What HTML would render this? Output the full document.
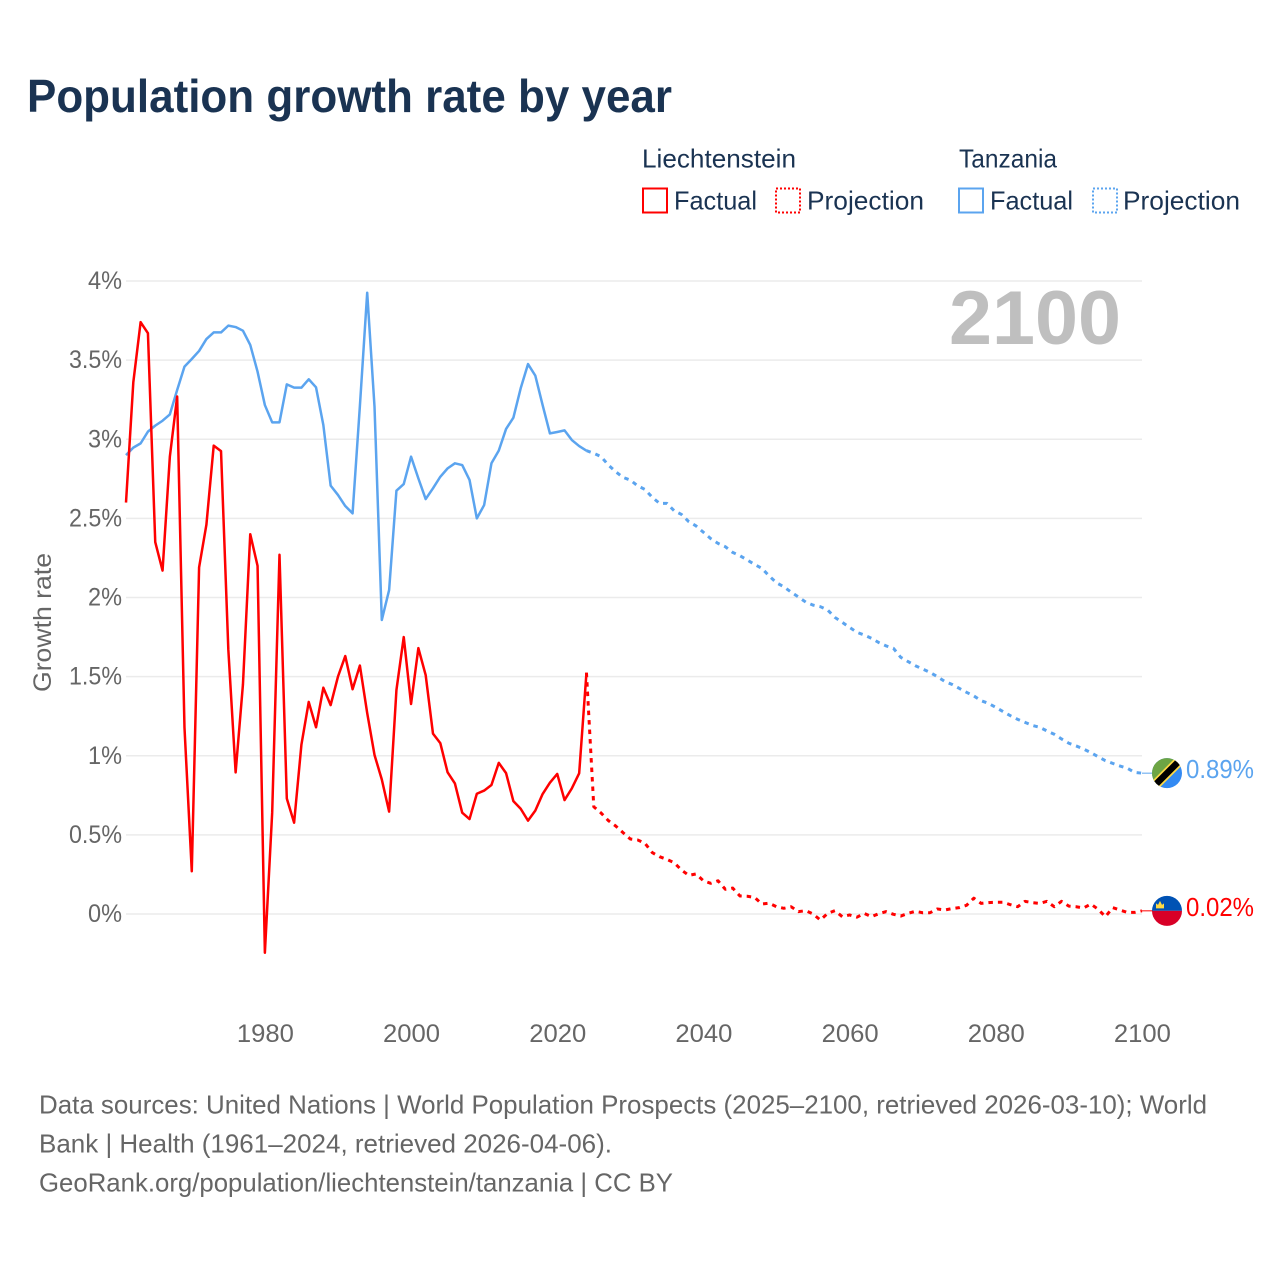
<!DOCTYPE html>
<html lang="en">
<head>
<meta charset="utf-8">
<title>Population growth rate by year</title>
<style>
html,body{margin:0;padding:0;background:#fff;width:1280px;height:1280px;overflow:hidden}
svg{display:block;font-family:"Liberation Sans",sans-serif}
</style>
</head>
<body>
<svg id="chart" xmlns="http://www.w3.org/2000/svg" width="1280" height="1280" viewBox="0 0 1280 1280">
  <defs>
    <clipPath id="clip-tz"><circle cx="0" cy="0" r="15"/></clipPath>
    <clipPath id="clip-li"><circle cx="0" cy="0" r="15"/></clipPath>
  </defs>
  <rect x="0" y="0" width="1280" height="1280" fill="#fff"/>
  <text x="27" y="112" font-size="46" font-weight="700" fill="#1a3352" textLength="645" lengthAdjust="spacingAndGlyphs">Population growth rate by year</text>

  <g font-size="26" fill="#1a3352">
    <text x="642" y="167.5" textLength="154" lengthAdjust="spacingAndGlyphs">Liechtenstein</text>
    <text x="959" y="167.5" textLength="98" lengthAdjust="spacingAndGlyphs">Tanzania</text>
    <rect x="643" y="188.5" width="24" height="24" fill="none" stroke="#ff0000" stroke-width="2"/>
    <text x="674" y="209.5" textLength="83" lengthAdjust="spacingAndGlyphs">Factual</text>
    <rect x="776" y="188.5" width="24" height="24" fill="none" stroke="#ff0000" stroke-width="2" stroke-dasharray="2 2"/>
    <text x="807" y="209.5" textLength="117" lengthAdjust="spacingAndGlyphs">Projection</text>
    <rect x="959" y="188.5" width="24" height="24" fill="none" stroke="#5ba4ef" stroke-width="2"/>
    <text x="990" y="209.5" textLength="83" lengthAdjust="spacingAndGlyphs">Factual</text>
    <rect x="1093" y="188.5" width="24" height="24" fill="none" stroke="#5ba4ef" stroke-width="2" stroke-dasharray="2 2"/>
    <text x="1123" y="209.5" textLength="117" lengthAdjust="spacingAndGlyphs">Projection</text>
  </g>

  <g id="grid"></g>
  <g id="yticks" font-size="25" fill="#666"></g>
  <g id="xticks" font-size="25" fill="#666"></g>
  <text transform="translate(51,692) rotate(-90)" x="0" y="0" font-size="25" fill="#666" textLength="139" lengthAdjust="spacingAndGlyphs">Growth rate</text>
  <text x="949" y="344" font-size="76" font-weight="700" fill="#bfbfbf" textLength="172" lengthAdjust="spacingAndGlyphs">2100</text>

  <g id="series"></g>

  <g id="flag-tz">
    <g clip-path="url(#clip-tz)">
      <rect x="-16" y="-16" width="32" height="32" fill="#338af3"/>
      <polygon points="-16,-16 16,-16 -16,16" fill="#6da544"/>
      <line x1="-18" y1="18" x2="18" y2="-18" stroke="#ffda44" stroke-width="10"/>
      <line x1="-18" y1="18" x2="18" y2="-18" stroke="#000" stroke-width="6.5"/>
    </g>
  </g>
  <g id="flag-li">
    <g clip-path="url(#clip-li)">
      <rect x="-16" y="-16" width="32" height="16" fill="#0052b4"/>
      <rect x="-16" y="0" width="32" height="16" fill="#d80027"/>
      <path d="M-11,-2.5 L-11,-7.5 L-9,-6 L-7,-10 L-5,-6 L-3,-7.5 L-3,-2.5 Z" fill="#ffda44"/>
    </g>
  </g>
  <text id="end-label-tz" x="1186" font-size="26" fill="#5ba4ef" textLength="68" lengthAdjust="spacingAndGlyphs"></text>
  <text id="end-label-li" x="1186" font-size="26" fill="#ff0000" textLength="68" lengthAdjust="spacingAndGlyphs"></text>

  <g font-size="26" fill="#666">
    <text x="39" y="1113.5" textLength="1168" lengthAdjust="spacingAndGlyphs">Data sources: United Nations | World Population Prospects (2025–2100, retrieved 2026-03-10); World</text>
    <text x="39" y="1152.5" textLength="573" lengthAdjust="spacingAndGlyphs">Bank | Health (1961–2024, retrieved 2026-04-06).</text>
    <text x="39" y="1191.5" textLength="634" lengthAdjust="spacingAndGlyphs">GeoRank.org/population/liechtenstein/tanzania | CC BY</text>
  </g>
</svg>
<script>
const factualStartYear = 1961;
const projectionStartYear = 2024;
const yTickValues = [0, 0.5, 1, 1.5, 2, 2.5, 3, 3.5, 4];
const yTickLabels = ["0%", "0.5%", "1%", "1.5%", "2%", "2.5%", "3%", "3.5%", "4%"];
const xTickYears = [1980, 2000, 2020, 2040, 2060, 2080, 2100];
const liechtensteinFactual = [
  2.60,3.36,3.74,3.67,2.35,2.17,2.89,3.27,1.18,0.27,
  2.19,2.46,2.96,2.925,1.67,0.895,1.45,2.40,2.20,-0.245,
  0.64,2.27,0.73,0.577,1.07,1.34,1.18,1.43,1.32,1.50,
  1.63,1.42,1.57,1.27,1.005,0.85,0.647,1.415,1.75,1.327,
  1.68,1.51,1.14,1.08,0.895,0.825,0.64,0.60,0.76,0.78,
  0.815,0.955,0.89,0.713,0.665,0.59,0.653,0.758,0.83,0.885,
  0.72,0.794,0.889,1.525
];
const liechtensteinProjection = [
  1.525,0.678,0.638,0.59,0.556,0.514,0.474,0.468,0.447,0.388,
  0.362,0.345,0.324,0.278,0.244,0.253,0.21,0.194,0.21,0.156,
  0.164,0.114,0.112,0.105,0.063,0.068,0.046,0.036,0.046,0.015,
  0.021,0,-0.038,0.004,0.021,-0.017,-0.006,-0.02,0.004,-0.017,
  0.002,0.015,-0.002,-0.013,0.004,0.017,0.008,0.008,0.032,0.025,
  0.034,0.04,0.055,0.10,0.067,0.072,0.074,0.074,0.059,0.046,
  0.08,0.072,0.067,0.08,0.046,0.08,0.05,0.046,0.038,0.063,
  0.03,-0.017,0.04,0.025,0.01,0.01,0.02
];
const tanzaniaFactual = [
  2.90,2.947,2.974,3.048,3.086,3.117,3.157,3.311,3.459,3.507,
  3.558,3.633,3.675,3.675,3.718,3.709,3.686,3.596,3.427,3.216,
  3.107,3.107,3.347,3.326,3.326,3.379,3.328,3.09,2.707,2.648,
  2.578,2.532,3.21,3.926,3.206,1.858,2.047,2.675,2.717,2.89,
  2.753,2.622,2.69,2.763,2.816,2.848,2.837,2.743,2.50,2.584,
  2.848,2.928,3.065,3.136,3.322,3.475,3.402,3.216,3.037,3.046,
  3.056,2.995,2.957,2.928
];
const tanzaniaProjection = [
  2.928,2.911,2.89,2.837,2.795,2.759,2.742,2.706,2.683,2.633,
  2.595,2.595,2.548,2.525,2.479,2.452,2.412,2.372,2.342,2.321,
  2.285,2.264,2.237,2.209,2.184,2.136,2.093,2.068,2.034,2.003,
  1.971,1.952,1.942,1.921,1.874,1.843,1.811,1.780,1.763,1.742,
  1.715,1.694,1.679,1.622,1.595,1.569,1.548,1.527,1.50,1.470,
  1.451,1.426,1.401,1.378,1.348,1.331,1.306,1.279,1.253,1.230,
  1.211,1.192,1.180,1.157,1.136,1.106,1.079,1.062,1.043,1.020,
  0.994,0.969,0.952,0.935,0.921,0.895,0.89
];

const SVG_NS = "http://www.w3.org/2000/svg";
const plotLeft = 126, plotRight = 1142, yZero = 914, pxPerPercent = 158.25, pxPerYear = 7.309;
function xScale(year){ return plotLeft + (year - factualStartYear) * pxPerYear; }
function yScale(value){ return yZero - value * pxPerPercent; }
function pathFrom(values, startYear){
  return values.map(function(v, i){
    return (i ? "L" : "M") + xScale(startYear + i).toFixed(2) + "," + yScale(v).toFixed(2);
  }).join("");
}
function yLabelWidth(label){ return label.length > 2 ? 53 : 34; }

const gridGroup = document.getElementById("grid");
const yTickGroup = document.getElementById("yticks");
yTickValues.forEach(function(v, i){
  const line = document.createElementNS(SVG_NS, "line");
  
  
  line.setAttribute("x1", plotLeft);
  line.setAttribute("x2", plotRight);
  line.setAttribute("y1", yScale(v));
  line.setAttribute("y2", yScale(v));
  line.setAttribute("stroke", "#ebebeb");
  line.setAttribute("stroke-width", "1.5");
  gridGroup.appendChild(line);
  const t = document.createElementNS(SVG_NS, "text");
  
  
  const w = yLabelWidth(yTickLabels[i]);
  t.setAttribute("x", 122 - w);
  t.setAttribute("y", yScale(v) + 8);
  t.setAttribute("textLength", w);
  t.setAttribute("lengthAdjust", "spacingAndGlyphs");
  t.textContent = yTickLabels[i];
  yTickGroup.appendChild(t);
});

const xTickGroup = document.getElementById("xticks");
xTickYears.forEach(function(year){
  const t = document.createElementNS(SVG_NS, "text");
  
  
  t.setAttribute("x", xScale(year) - 28);
  t.setAttribute("y", 1042);
  t.setAttribute("textLength", 57);
  t.setAttribute("lengthAdjust", "spacingAndGlyphs");
  t.textContent = String(year);
  xTickGroup.appendChild(t);
});

const seriesGroup = document.getElementById("series");
function addLine(name, values, startYear, color, dash){
  const p = document.createElementNS(SVG_NS, "path");
  
  
  p.setAttribute("d", pathFrom(values, startYear));
  p.setAttribute("fill", "none");
  p.setAttribute("stroke", color);
  p.setAttribute("stroke-width", dash ? "3" : "2.5");
  p.setAttribute("stroke-linejoin", "round");
  if (dash) p.setAttribute("stroke-dasharray", dash);
  seriesGroup.appendChild(p);
}
addLine("tanzania-factual-line", tanzaniaFactual, factualStartYear, "#5ba4ef", null);
addLine("tanzania-projection-line", tanzaniaProjection, projectionStartYear, "#5ba4ef", "4.5 5");
addLine("liechtenstein-factual-line", liechtensteinFactual, factualStartYear, "#ff0000", null);
addLine("liechtenstein-projection-line", liechtensteinProjection, projectionStartYear, "#ff0000", "4.5 5");

function addEnd(values, color, flagId, labelId){
  const last = values[values.length - 1];
  const y = yScale(last);
  const c = document.createElementNS(SVG_NS, "line");
  
  
  c.setAttribute("x1", plotRight);
  c.setAttribute("x2", 1153);
  c.setAttribute("y1", y);
  c.setAttribute("y2", y);
  c.setAttribute("stroke", color);
  c.setAttribute("stroke-width", "1");
  seriesGroup.appendChild(c);
  document.getElementById(flagId).setAttribute("transform", "translate(1167," + y + ")");
  const label = document.getElementById(labelId);
  label.setAttribute("y", y + 5);
  label.textContent = last.toFixed(2) + "%";
}
addEnd(tanzaniaProjection, "#5ba4ef", "flag-tz", "end-label-tz");
addEnd(liechtensteinProjection, "#ff0000", "flag-li", "end-label-li");
</script>
</body>
</html>
